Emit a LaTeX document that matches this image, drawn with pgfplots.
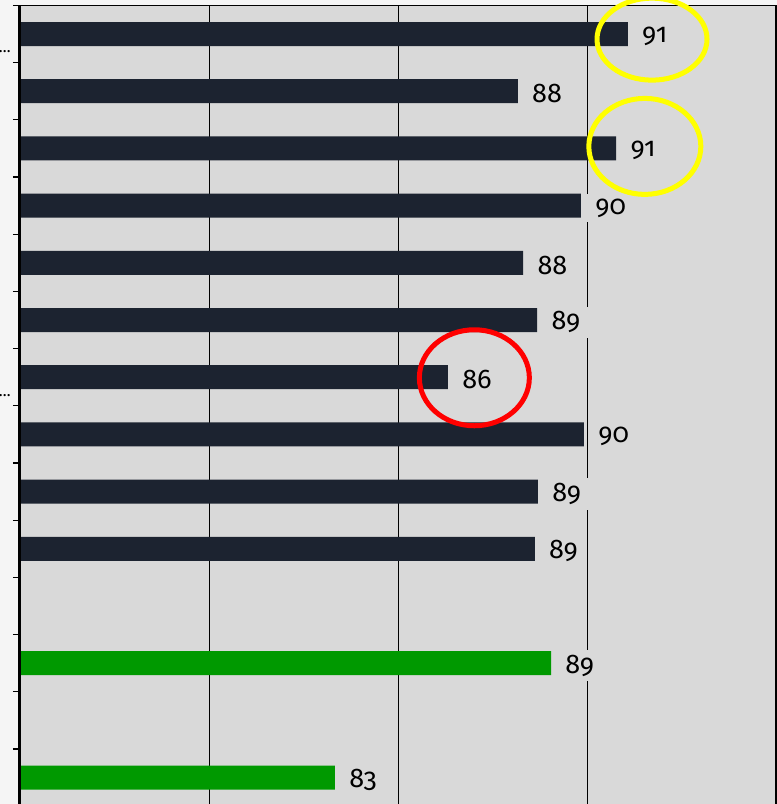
\documentclass[border=0pt]{standalone}
\usepackage{pgfplots}
\pgfplotsset{compat=1.18}
\usepackage{fontspec}
\setmainfont{Fira Sans}[Numbers=OldStyle]
\definecolor{barnavy}{HTML}{1C2330}
\definecolor{bargreen}{HTML}{009900}
\definecolor{plotbg}{HTML}{D9D9D9}
\definecolor{ringyellow}{HTML}{FFFF00}
\definecolor{ringred}{HTML}{FF0000}

\begin{document}
\begin{tikzpicture}
  % page is the cropped view of the chart: 777x804 px at 0.5pt per px
  \useasboundingbox (0,0) rectangle (388.5pt,402pt);
  \fill[white!96!black] (0,0) rectangle (388.5pt,402pt);
  \begin{scope}
  \clip (0,0) rectangle (388.5pt,402pt);
  \begin{axis}[
    at={(10pt,399.3pt)}, anchor=north west,
    scale only axis, width=378pt, height=400.4pt,
    xbar, bar width=12pt, bar shift=0pt,
    xmin=75, xmax=95,
    ymin=-0.5, ymax=13.5, y dir=reverse,
    axis background/.style={fill=plotbg},
    axis line style={black, line width=0.8pt},
    xtick={75,80,...,95}, xticklabels={},
    x tick style={draw=none},
    xmajorgrids, grid style={black, line width=0.5pt},
    ytick={0,6}, yticklabels={\ldots,\ldots},
    ytick pos=left, tick align=outside,
    major tick length=0pt,
    minor ytick={-0.5,0.5,...,13.5},
    minor tick length=3.5pt,
    minor y tick style={black, line width=0.6pt},
    yticklabel style={anchor=east, inner sep=0pt, xshift=-4.5pt, yshift=-9pt,
                      font=\footnotesize},
    /pgf/number format/assume math mode=true,
    nodes near coords={\pgfmathprintnumber[fixed,precision=0]{\pgfplotspointmeta}},
    every node near coord/.append style={fill=plotbg, inner xsep=4pt,
      inner ysep=2.5pt, text=black, font=\fontsize{13.5}{15}\selectfont,
      anchor=west, xshift=3pt, yshift=-1.2pt},
  ]
    \addplot[fill=barnavy, draw=none] coordinates {
      (91.08,0) (88.17,1) (90.77,2) (89.84,3) (88.31,4)
      (88.68,5) (86.32,6) (89.92,7) (88.70,8) (88.62,9)
    };
    \addplot[fill=bargreen, draw=none] coordinates {
      (89.05,11) (83.33,13)
    };
    \coordinate (leftbot) at (rel axis cs:0,0);
    \coordinate (lefttop) at (rel axis cs:0,1);
    \coordinate (ringA) at (axis cs:91.72,0.09);
    \coordinate (ringB) at (axis cs:91.53,1.965);
    \coordinate (ringC) at (axis cs:87.02,6.01);
  \end{axis}
  \draw[black, line width=1.5pt] ([xshift=-0.3pt]leftbot) -- ([xshift=-0.3pt]lefttop);
  \draw[ringyellow, line width=2.5pt] (ringA) ellipse [x radius=27.5pt, y radius=20.5pt];
  \draw[ringyellow, line width=2.5pt] (ringB) ellipse [x radius=28pt, y radius=24pt];
  \draw[ringred, line width=2.5pt] (ringC) ellipse [x radius=27.5pt, y radius=24pt];
  \end{scope}
\end{tikzpicture}
\end{document}
